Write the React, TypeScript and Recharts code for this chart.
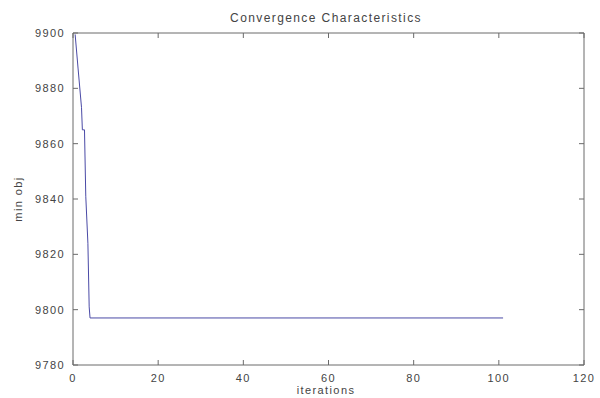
import React from "react";
import { LineChart, Line, XAxis, YAxis } from "recharts";

// iteration / best objective value
const iterations = [0.5, 1.2, 2.0, 2.2, 2.7, 3.0, 3.5, 3.8, 4.0, 101];
const minObj = [9899.5, 9887, 9873, 9865, 9865, 9841, 9824, 9801, 9797, 9797];

const xTicks = [0, 20, 40, 60, 80, 100, 120];
const yTicks = [9780, 9800, 9820, 9840, 9860, 9880, 9900];

const data = iterations.map((it, i) => ({ it, v: minObj[i] }));

const AXIS = "#6a6a6a";
const TEXT = "#444";
const FONT = "'Liberation Sans', Arial, sans-serif";

// MATLAB style: tick marks point inward
function BottomTick(props: any) {
  const { x, y, payload } = props;
  return (
    <g>
      <line x1={x} y1={y} x2={x} y2={y - 5} stroke={AXIS} />
      <text x={x} y={y + 17} textAnchor="middle" fontSize={11} fill={TEXT} fontFamily={FONT} letterSpacing={1.4}>
        {payload.value}
      </text>
    </g>
  );
}

function TopTick(props: any) {
  const { x, y } = props;
  return <line x1={x} y1={y} x2={x} y2={y + 5} stroke={AXIS} />;
}

function LeftTick(props: any) {
  const { x, y, payload } = props;
  return (
    <g>
      <line x1={x} y1={y} x2={x + 5} y2={y} stroke={AXIS} />
      <text x={x - 8} y={y + 4} textAnchor="end" fontSize={11} fill={TEXT} fontFamily={FONT} letterSpacing={1.4}>
        {payload.value}
      </text>
    </g>
  );
}

function RightTick(props: any) {
  const { x, y } = props;
  return <line x1={x} y1={y} x2={x - 5} y2={y} stroke={AXIS} />;
}

export default function App() {
  return (
    <div style={{ position: "absolute", left: 0, top: 0, width: 600, height: 398, background: "#fff", fontFamily: FONT }}>
      <LineChart width={600} height={398} data={data} margin={{ top: 32, right: 15, bottom: 0, left: 0 }}>
        <XAxis
          xAxisId="b"
          dataKey="it"
          type="number"
          domain={[0, 120]}
          ticks={xTicks}
          height={33}
          tickSize={0}
          tickMargin={0}
          tickLine={false}
          stroke={AXIS}
          tick={<BottomTick />}
          interval={0}
        />
        <XAxis
          xAxisId="t"
          orientation="top"
          dataKey="it"
          type="number"
          domain={[0, 120]}
          ticks={xTicks}
          height={1}
          tickSize={0}
          tickMargin={0}
          tickLine={false}
          stroke={AXIS}
          tick={<TopTick />}
          interval={0}
        />
        <YAxis
          yAxisId="l"
          type="number"
          domain={[9780, 9900]}
          ticks={yTicks}
          width={73}
          tickSize={0}
          tickMargin={0}
          tickLine={false}
          stroke={AXIS}
          tick={<LeftTick />}
          interval={0}
          allowDataOverflow
        />
        <YAxis
          yAxisId="r"
          orientation="right"
          type="number"
          domain={[9780, 9900]}
          ticks={yTicks}
          width={1}
          tickSize={0}
          tickMargin={0}
          tickLine={false}
          stroke={AXIS}
          tick={<RightTick />}
          interval={0}
        />
        <Line
          xAxisId="b"
          yAxisId="l"
          type="linear"
          dataKey="v"
          stroke="#4a4aa6"
          strokeWidth={1}
          dot={false}
          isAnimationActive={false}
        />
        <Line
          xAxisId="t"
          yAxisId="r"
          type="linear"
          dataKey="v"
          stroke="#4a4aa6"
          strokeOpacity={0}
          dot={false}
          legendType="none"
          isAnimationActive={false}
        />
      </LineChart>
      <div style={{ position: "absolute", left: 0, width: 652, top: 11, textAlign: "center", fontSize: 12, color: TEXT, letterSpacing: 1.4 }}>
        Convergence Characteristics
      </div>
      <div style={{ position: "absolute", left: 0, width: 652, top: 384, textAlign: "center", fontSize: 11, color: TEXT, letterSpacing: 1.4 }}>
        iterations
      </div>
      <div
        style={{
          position: "absolute",
          left: 18,
          top: 199,
          fontSize: 11,
          color: TEXT,
          letterSpacing: 1.4,
          whiteSpace: "nowrap",
          transform: "translate(-50%, -50%) rotate(-90deg)",
        }}
      >
        min obj
      </div>
    </div>
  );
}
